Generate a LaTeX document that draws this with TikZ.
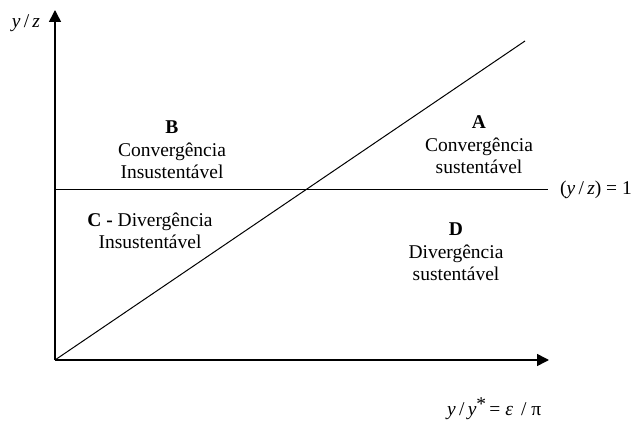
\documentclass[tikz,border=0pt]{standalone}
\usepackage{fontspec}
\setmainfont{Liberation Serif}
\usetikzlibrary{arrows.meta}
\begin{document}
\begin{tikzpicture}[x=1pt,y=1pt,
  axis/.style={line width=1.6pt,-{Triangle[length=12pt,width=12pt]}},
  thinline/.style={line width=1pt},
  lbl/.style={font=\fontsize{19.5}{22.5}\selectfont,align=center,inner sep=0pt}]
\useasboundingbox (0,0) rectangle (643,421);
\coordinate (O) at (55,61);
\coordinate (Ytip) at (55,411);
\coordinate (Xtip) at (549,61);
\coordinate (Dend) at (525,380);
\coordinate (Hs) at (55,231);
\coordinate (He) at (548,231);
\draw[axis] (O) -- (Ytip);
\draw[axis] (O) -- (Xtip);
\draw[thinline] (O) -- (Dend);
\draw[thinline] (Hs) -- (He);
\node[lbl,anchor=center] (ylab) at (26,398) {\textit{y}\,/\,\textit{z}};
\node[lbl,anchor=west] (hlab) at (560,231) {(\textit{y}\,/\,\textit{z}) = 1};
\node[lbl,anchor=base west] (xlab) at (447,6) {\textit{y}\,/\,\textit{y}\raisebox{0.55ex}{*}\,= \textit{ε}\, / π};
\node[lbl] (B) at (172,271) {\textbf{B}\\Convergência\\Insustentável};
\node[lbl] (A) at (479,276) {\textbf{A}\\Convergência\\sustentável};
\node[lbl] (C) at (150,190) {\textbf{C -} Divergência\\Insustentável};
\node[lbl] (D) at (456,169) {\textbf{D}\\Divergência\\sustentável};
\end{tikzpicture}
\end{document}
